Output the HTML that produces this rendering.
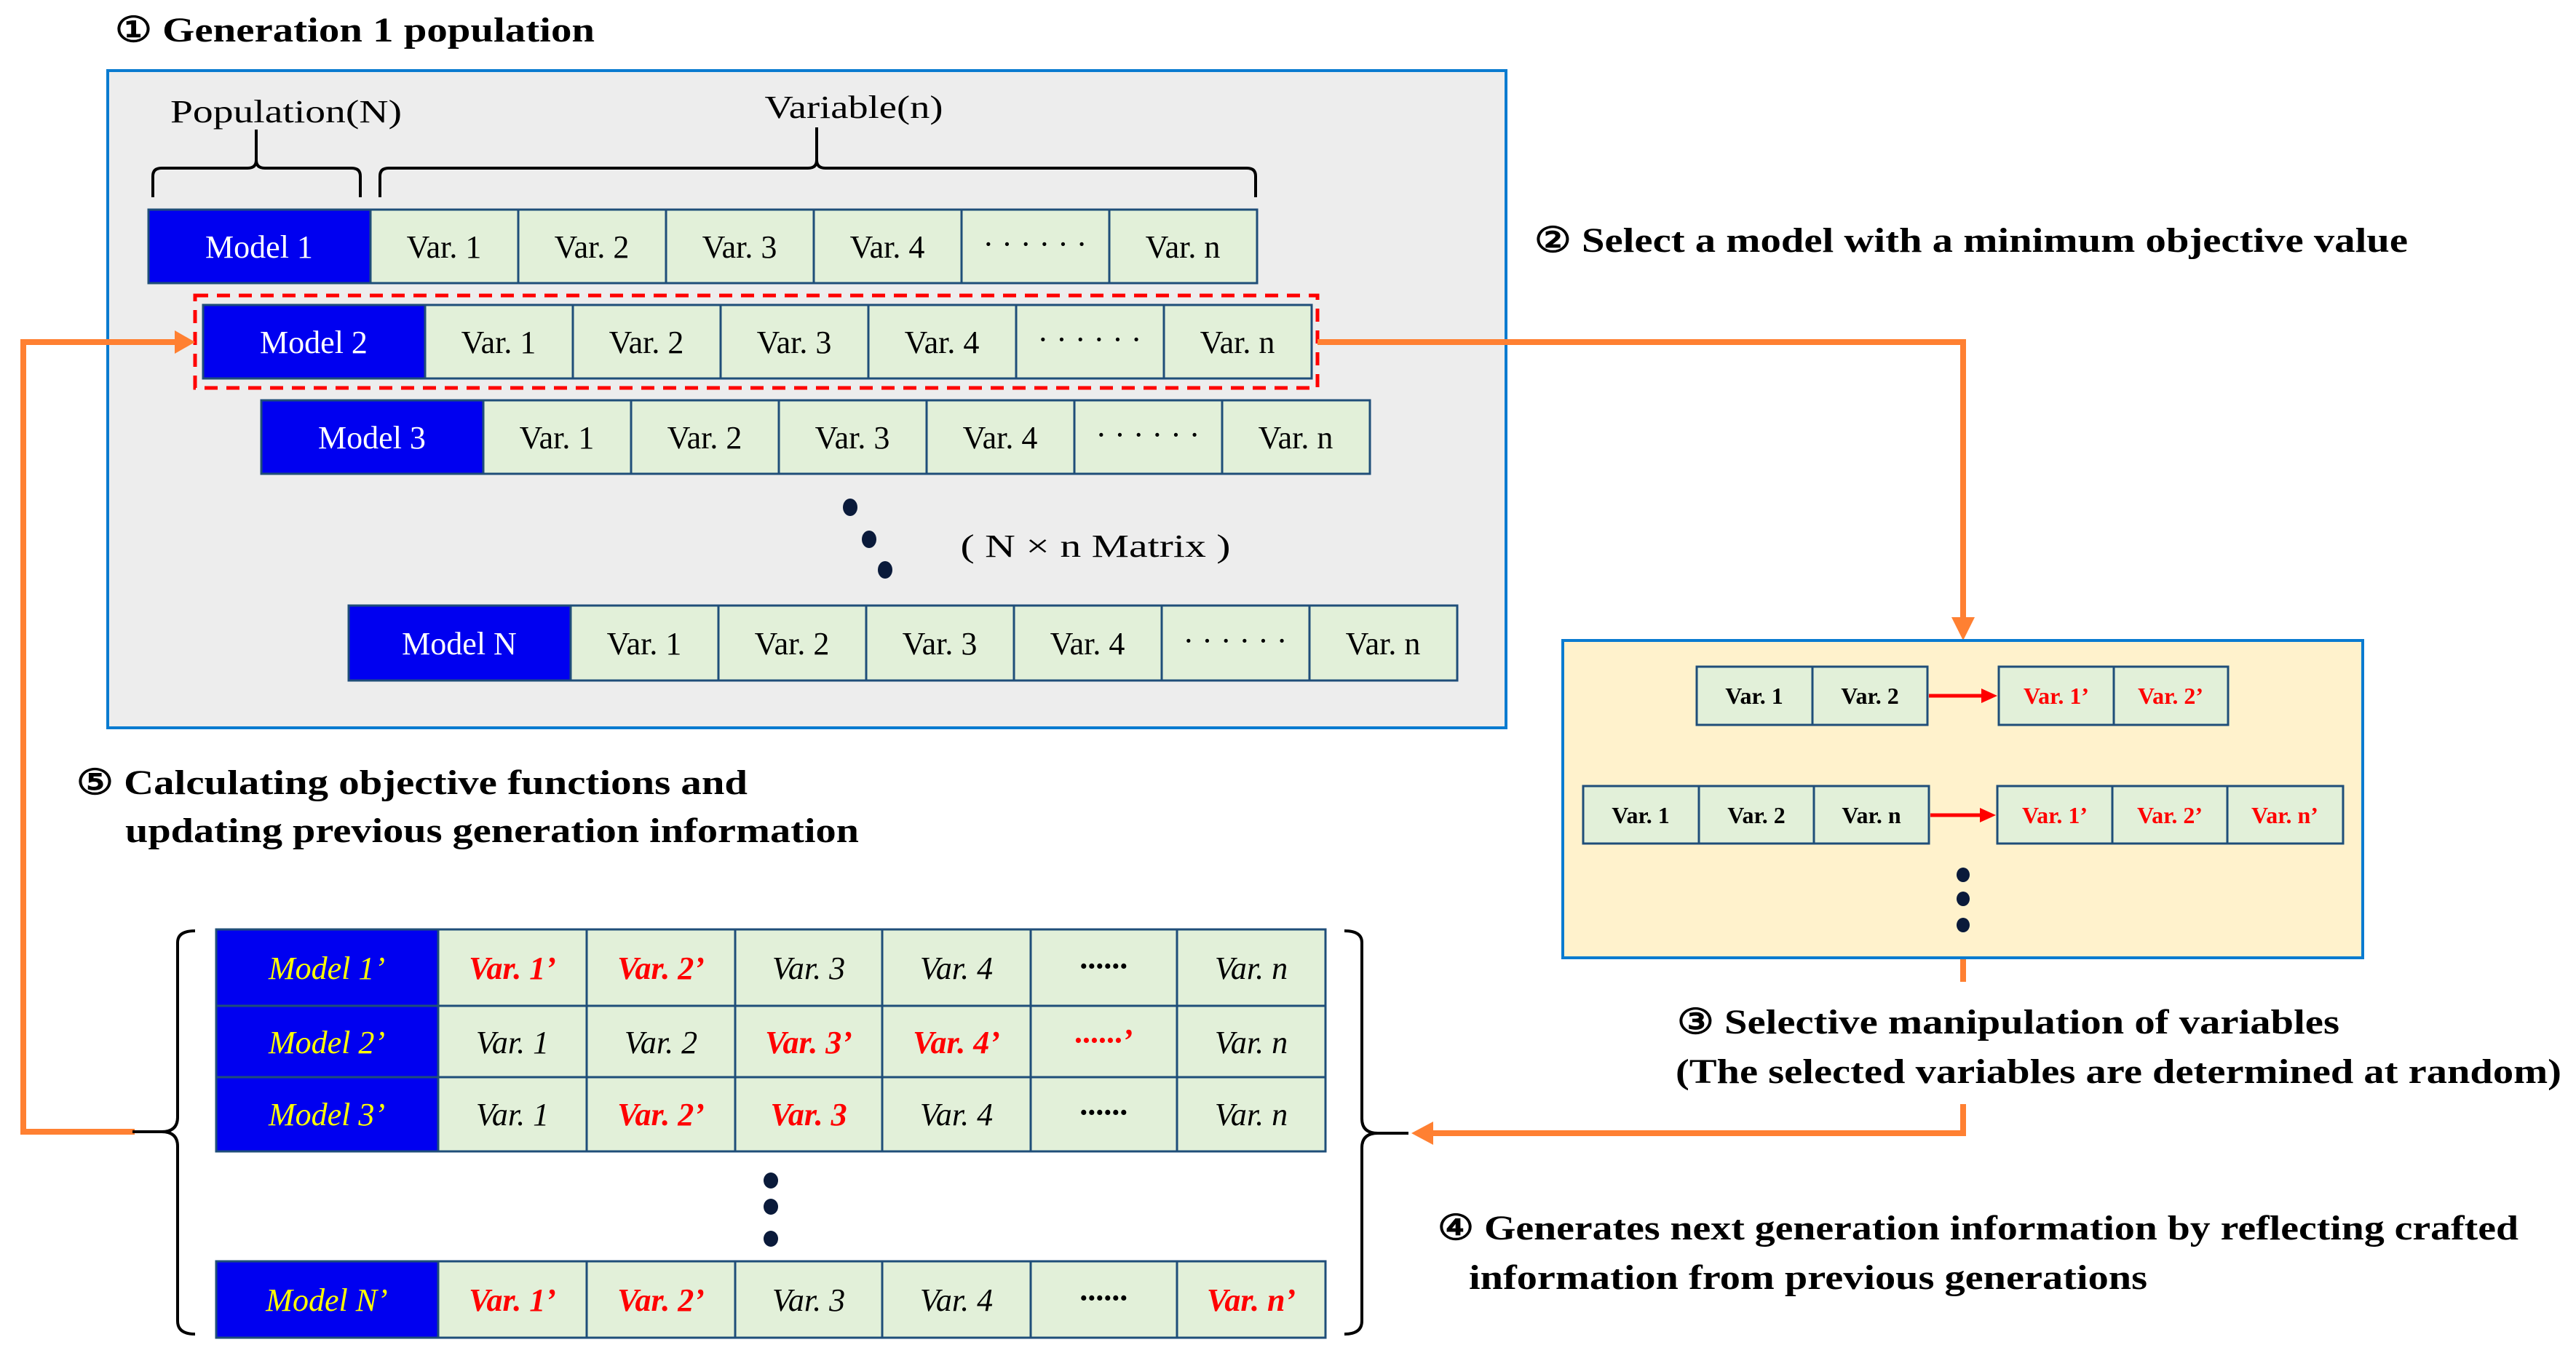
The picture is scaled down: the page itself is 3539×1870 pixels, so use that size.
<!DOCTYPE html>
<html><head><meta charset="utf-8"><style>
html,body{margin:0;padding:0;background:#fff}
svg{display:block}
.h{font-family:"Liberation Serif",serif;font-weight:bold;font-size:48px;fill:#000}
.c{font-family:"Liberation Serif",serif;font-size:44px;fill:#000;text-anchor:middle}
.w{fill:#fff}
.y{font-family:"Liberation Serif",serif;font-size:32px;font-weight:bold;text-anchor:middle;fill:#000}
.i{font-family:"Liberation Serif",serif;font-size:44px;font-style:italic;text-anchor:middle;fill:#000}
.r{fill:#ff0000;font-weight:bold}
.m{fill:#ffff00}
.v{fill:#e2f0d9;stroke:#1f4e79;stroke-width:3}
.md{fill:#0000f0;stroke:#1f4e79;stroke-width:3}
.o{stroke:#ff8032;stroke-width:8;fill:none}
</style></head><body>
<svg width="3539" height="1870" viewBox="0 0 3539 1870" xmlns="http://www.w3.org/2000/svg">
<!-- gray box -->
<rect x="148" y="97" width="1921" height="903" fill="#ededed" stroke="#0a7bd0" stroke-width="4"/>
<text class="h" x="158" y="57" textLength="659" lengthAdjust="spacingAndGlyphs">① Generation  1 population</text>
<text class="c" x="393" y="168" textLength="318" lengthAdjust="spacingAndGlyphs">Population(N)</text>
<text class="c" x="1173" y="162" textLength="245" lengthAdjust="spacingAndGlyphs">Variable(n)</text>
<!-- braces -->
<path d="M210,271 L210,242 Q210,231 222,231 L340,231 Q352,231 352,220 L352,178 M352,220 Q352,231 364,231 L483,231 Q495,231 495,242 L495,271" stroke="#000" stroke-width="4" fill="none"/>
<path d="M522,271 L522,242 Q522,231 534,231 L1110,231 Q1122,231 1122,220 L1122,175 M1122,220 Q1122,231 1134,231 L1713,231 Q1725,231 1725,242 L1725,271" stroke="#000" stroke-width="4" fill="none"/>
<!-- row1 -->
<g>
<rect class="md" x="204" y="288" width="305" height="101"/>
<rect class="v" x="509" y="288" width="203" height="101"/><rect class="v" x="712" y="288" width="203" height="101"/><rect class="v" x="915" y="288" width="203" height="101"/><rect class="v" x="1118" y="288" width="203" height="101"/><rect class="v" x="1321" y="288" width="203" height="101"/><rect class="v" x="1524" y="288" width="203" height="101"/>
<text class="c w" x="356" y="354">Model 1</text>
<text class="c" x="610" y="354">Var. 1</text><text class="c" x="813" y="354">Var. 2</text><text class="c" x="1016" y="354">Var. 3</text><text class="c" x="1219" y="354">Var. 4</text><text class="c" x="1422" y="350">· · · · · ·</text><text class="c" x="1625" y="354">Var. n</text>
</g>
<!-- row2 -->
<g>
<rect class="md" x="279" y="419" width="305" height="101"/>
<rect class="v" x="584" y="419" width="203" height="101"/><rect class="v" x="787" y="419" width="203" height="101"/><rect class="v" x="990" y="419" width="203" height="101"/><rect class="v" x="1193" y="419" width="203" height="101"/><rect class="v" x="1396" y="419" width="203" height="101"/><rect class="v" x="1599" y="419" width="203" height="101"/>
<text class="c w" x="431" y="485">Model 2</text>
<text class="c" x="685" y="485">Var. 1</text><text class="c" x="888" y="485">Var. 2</text><text class="c" x="1091" y="485">Var. 3</text><text class="c" x="1294" y="485">Var. 4</text><text class="c" x="1497" y="481">· · · · · ·</text><text class="c" x="1700" y="485">Var. n</text>
</g>
<rect x="268" y="406" width="1542" height="127" fill="none" stroke="#ff0000" stroke-width="5" stroke-dasharray="18,12"/>
<!-- row3 -->
<g>
<rect class="md" x="359" y="550" width="305" height="101"/>
<rect class="v" x="664" y="550" width="203" height="101"/><rect class="v" x="867" y="550" width="203" height="101"/><rect class="v" x="1070" y="550" width="203" height="101"/><rect class="v" x="1273" y="550" width="203" height="101"/><rect class="v" x="1476" y="550" width="203" height="101"/><rect class="v" x="1679" y="550" width="203" height="101"/>
<text class="c w" x="511" y="616">Model 3</text>
<text class="c" x="765" y="616">Var. 1</text><text class="c" x="968" y="616">Var. 2</text><text class="c" x="1171" y="616">Var. 3</text><text class="c" x="1374" y="616">Var. 4</text><text class="c" x="1577" y="612">· · · · · ·</text><text class="c" x="1780" y="616">Var. n</text>
</g>
<ellipse cx="1168" cy="697" rx="10" ry="12" fill="#0a1a3a"/><ellipse cx="1194" cy="741" rx="10" ry="12" fill="#0a1a3a"/><ellipse cx="1216" cy="783" rx="10" ry="12" fill="#0a1a3a"/>
<text class="c" x="1505" y="765" textLength="371" lengthAdjust="spacingAndGlyphs">( N × n Matrix )</text>
<!-- rowN -->
<g>
<rect class="md" x="479" y="832" width="305" height="103"/>
<rect class="v" x="784" y="832" width="203" height="103"/><rect class="v" x="987" y="832" width="203" height="103"/><rect class="v" x="1190" y="832" width="203" height="103"/><rect class="v" x="1393" y="832" width="203" height="103"/><rect class="v" x="1596" y="832" width="203" height="103"/><rect class="v" x="1799" y="832" width="203" height="103"/>
<text class="c w" x="631" y="899">Model N</text>
<text class="c" x="885" y="899">Var. 1</text><text class="c" x="1088" y="899">Var. 2</text><text class="c" x="1291" y="899">Var. 3</text><text class="c" x="1494" y="899">Var. 4</text><text class="c" x="1697" y="895">· · · · · ·</text><text class="c" x="1900" y="899">Var. n</text>
</g>
<!-- step 2 text -->
<text class="h" x="2108" y="346" textLength="1200" lengthAdjust="spacingAndGlyphs">② Select  a model with a minimum objective value</text>
<!-- orange connectors -->
<path class="o" d="M1810,470 L2697,470 L2697,852"/>
<polygon points="2681,848 2713,848 2697,880" fill="#ff8032"/>
<path class="o" d="M2697,1316 L2697,1349"/>
<path class="o" d="M2697,1517 L2697,1557 L1965,1557"/>
<polygon points="1969,1541 1969,1573 1939,1557" fill="#ff8032"/>
<path class="o" d="M185,1555 L32,1555 L32,470 L242,470"/>
<polygon points="240,454 240,486 268,470" fill="#ff8032"/>
<!-- yellow box -->
<rect x="2147" y="880" width="1099" height="436" fill="#fff2cc" stroke="#0a7bd0" stroke-width="4"/>
<g>
<rect class="v" x="2331" y="916" width="159" height="80"/><rect class="v" x="2490" y="916" width="158" height="80"/>
<rect class="v" x="2746" y="916" width="158" height="80"/><rect class="v" x="2904" y="916" width="157" height="80"/>
<text class="y" x="2410" y="967">Var. 1</text><text class="y" x="2569" y="967">Var. 2</text>
<text class="y r" x="2825" y="967">Var. 1’</text><text class="y r" x="2982" y="967">Var. 2’</text>
<line x1="2650" y1="956" x2="2724" y2="956" stroke="#ff0000" stroke-width="5"/><polygon points="2722,946 2722,966 2744,956" fill="#ff0000"/>
<rect class="v" x="2175" y="1080" width="159" height="79"/><rect class="v" x="2334" y="1080" width="158" height="79"/><rect class="v" x="2492" y="1080" width="158" height="79"/>
<rect class="v" x="2744" y="1080" width="158" height="79"/><rect class="v" x="2902" y="1080" width="158" height="79"/><rect class="v" x="3060" y="1080" width="159" height="79"/>
<text class="y" x="2254" y="1131">Var. 1</text><text class="y" x="2413" y="1131">Var. 2</text><text class="y" x="2571" y="1131">Var. n</text>
<text class="y r" x="2823" y="1131">Var. 1’</text><text class="y r" x="2981" y="1131">Var. 2’</text><text class="y r" x="3139" y="1131">Var. n’</text>
<line x1="2652" y1="1120" x2="2722" y2="1120" stroke="#ff0000" stroke-width="5"/><polygon points="2720,1110 2720,1130 2742,1120" fill="#ff0000"/>
<ellipse cx="2697" cy="1202" rx="9" ry="10" fill="#0a1a3a"/><ellipse cx="2697" cy="1235" rx="9" ry="10" fill="#0a1a3a"/><ellipse cx="2697" cy="1271" rx="9" ry="10" fill="#0a1a3a"/>
</g>
<text class="h" x="2304" y="1420" textLength="910" lengthAdjust="spacingAndGlyphs">③ Selective  manipulation  of variables</text>
<text class="h" x="2302" y="1488" textLength="1217" lengthAdjust="spacingAndGlyphs">(The selected variables  are  determined at random)</text>
<text class="h" x="1975" y="1703" textLength="1485" lengthAdjust="spacingAndGlyphs">④ Generates next generation information  by reflecting crafted</text>
<text class="h" x="2018" y="1771" textLength="932" lengthAdjust="spacingAndGlyphs">information  from previous generations</text>
<!-- step 5 text -->
<text class="h" x="105" y="1091" textLength="922" lengthAdjust="spacingAndGlyphs">⑤ Calculating objective functions and</text>
<text class="h" x="172" y="1157" textLength="1008" lengthAdjust="spacingAndGlyphs">updating previous  generation information</text>
<!-- bottom braces -->
<path d="M268,1279 Q244,1279 244,1295 L244,1535 Q244,1555 222,1555 L182,1555 M222,1555 Q244,1555 244,1575 L244,1815 Q244,1833 268,1833" stroke="#000" stroke-width="4" fill="none"/>
<path d="M1847,1279 Q1871,1279 1871,1295 L1871,1537 Q1871,1557 1893,1557 L1935,1557 M1893,1557 Q1871,1557 1871,1577 L1871,1815 Q1871,1833 1847,1833" stroke="#000" stroke-width="4" fill="none"/>
<!-- bottom table -->
<g>
<rect class="md" x="297" y="1277" width="305" height="105"/>
<rect class="v" x="602" y="1277" width="204" height="105"/><rect class="v" x="806" y="1277" width="204" height="105"/><rect class="v" x="1010" y="1277" width="202" height="105"/><rect class="v" x="1212" y="1277" width="204" height="105"/><rect class="v" x="1416" y="1277" width="201" height="105"/><rect class="v" x="1617" y="1277" width="204" height="105"/>
<text class="i m" x="449" y="1345">Model 1’</text>
<text class="i r" x="704" y="1345">Var. 1’</text><text class="i r" x="908" y="1345">Var. 2’</text><text class="i" x="1111" y="1345">Var. 3</text><text class="i" x="1314" y="1345">Var. 4</text><text class="i" x="1516" y="1342" font-weight="bold">······</text><text class="i" x="1719" y="1345">Var. n</text>
<rect class="md" x="297" y="1382" width="305" height="98"/>
<rect class="v" x="602" y="1382" width="204" height="98"/><rect class="v" x="806" y="1382" width="204" height="98"/><rect class="v" x="1010" y="1382" width="202" height="98"/><rect class="v" x="1212" y="1382" width="204" height="98"/><rect class="v" x="1416" y="1382" width="201" height="98"/><rect class="v" x="1617" y="1382" width="204" height="98"/>
<text class="i m" x="449" y="1447">Model 2’</text>
<text class="i" x="704" y="1447">Var. 1</text><text class="i" x="908" y="1447">Var. 2</text><text class="i r" x="1111" y="1447">Var. 3’</text><text class="i r" x="1314" y="1447">Var. 4’</text><text class="i r" x="1516" y="1444">······’</text><text class="i" x="1719" y="1447">Var. n</text>
<rect class="md" x="297" y="1480" width="305" height="102"/>
<rect class="v" x="602" y="1480" width="204" height="102"/><rect class="v" x="806" y="1480" width="204" height="102"/><rect class="v" x="1010" y="1480" width="202" height="102"/><rect class="v" x="1212" y="1480" width="204" height="102"/><rect class="v" x="1416" y="1480" width="201" height="102"/><rect class="v" x="1617" y="1480" width="204" height="102"/>
<text class="i m" x="449" y="1546">Model 3’</text>
<text class="i" x="704" y="1546">Var. 1</text><text class="i r" x="908" y="1546">Var. 2’</text><text class="i r" x="1111" y="1546">Var. 3</text><text class="i" x="1314" y="1546">Var. 4</text><text class="i" x="1516" y="1543" font-weight="bold">······</text><text class="i" x="1719" y="1546">Var. n</text>
<ellipse cx="1059" cy="1622" rx="10" ry="11" fill="#0a1a3a"/><ellipse cx="1059" cy="1658" rx="10" ry="11" fill="#0a1a3a"/><ellipse cx="1059" cy="1702" rx="10" ry="11" fill="#0a1a3a"/>
<rect class="md" x="297" y="1733" width="305" height="105"/>
<rect class="v" x="602" y="1733" width="204" height="105"/><rect class="v" x="806" y="1733" width="204" height="105"/><rect class="v" x="1010" y="1733" width="202" height="105"/><rect class="v" x="1212" y="1733" width="204" height="105"/><rect class="v" x="1416" y="1733" width="201" height="105"/><rect class="v" x="1617" y="1733" width="204" height="105"/>
<text class="i m" x="449" y="1801">Model N’</text>
<text class="i r" x="704" y="1801">Var. 1’</text><text class="i r" x="908" y="1801">Var. 2’</text><text class="i" x="1111" y="1801">Var. 3</text><text class="i" x="1314" y="1801">Var. 4</text><text class="i" x="1516" y="1798" font-weight="bold">······</text><text class="i r" x="1719" y="1801">Var. n’</text>
</g>
</svg>
</body></html>
